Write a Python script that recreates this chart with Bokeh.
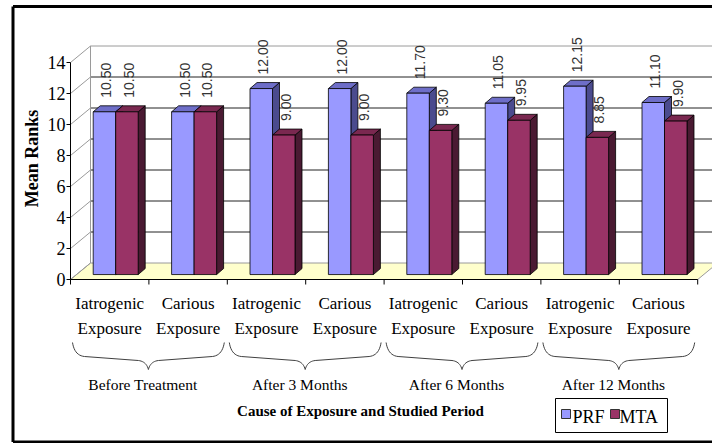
import numpy as np
from bokeh.plotting import figure
from bokeh.models import Range1d, ColumnDataSource
from bokeh.core.properties import value
from bokeh.embed import file_html
from bokeh.resources import INLINE

# ---------------- data ----------------
causes = ["Iatrogenic Exposure", "Carious Exposure",
          "Iatrogenic Exposure", "Carious Exposure",
          "Iatrogenic Exposure", "Carious Exposure",
          "Iatrogenic Exposure", "Carious Exposure"]
periods = ["Before Treatment", "After 3 Months", "After 6 Months", "After 12 Months"]
prf = [10.50, 10.50, 12.00, 12.00, 11.70, 11.05, 12.15, 11.10]
mta = [10.50, 10.50, 9.00, 9.00, 9.30, 9.95, 8.85, 9.90]
prf_labels = ["10.50", "10.50", "12.00", "12.00", "11.70", "11.05", "12.15", "11.10"]
mta_labels = ["10.50", "10.50", "9.00", "9.00", "9.30", "9.95", "8.85", "9.90"]
y_ticks = [0, 2, 4, 6, 8, 10, 12, 14]
y_tick_labels = ["0", "2", "4", "6", "8", "10", "12", "14"]
series_names = ["PRF", "MTA"]

# ---------------- layout (pixels) ----------------
W, H = 712, 443
OX, OY = 70, 279          # position of the front axis origin
PX_X, PX_Y = 78.4, 15.5   # pixels per category / per value unit

def X(px):
    return (px - OX) / PX_X

def Y(py):
    return (OY - py) / PX_Y

def dx(px):
    return px / PX_X

def dy(px):
    return px / PX_Y

SERIF = "Liberation Serif"
SANS = "Liberation Sans"

p = figure(width=W, height=H, output_backend="svg", toolbar_location=None,
           x_range=Range1d(X(0), X(W)), y_range=Range1d(Y(H), Y(0)),
           x_axis_location=None, y_axis_location=None, min_border=0)
p.grid.visible = False
p.outline_line_color = None
p.background_fill_color = "white"
p.border_fill_color = "white"

n = len(prf)
ymax = y_ticks[-1]

# 3D geometry
WDX, WDY = dx(20), dy(16.5)      # wall depth
F = 0.30                         # bar depth position
BASE = F * WDY
SHIFT = F * WDX
BW = dx(22.5)
DDX, DDY = dx(7), dy(6)

# floor
p.patch([0, n, n + WDX, WDX], [0, 0, WDY, WDY], fill_color="#FFFFCC",
        line_color="#9a9a9a", line_width=1)

# back wall grid lines
grid_vals = [v for v in y_ticks if 0 < v < ymax]
p.multi_line([[WDX, n + WDX] for v in grid_vals], [[v + WDY, v + WDY] for v in grid_vals],
             line_color="#222222", line_width=1)
p.multi_line([[WDX, n + WDX], [WDX, WDX]], [[ymax + WDY, ymax + WDY], [WDY, ymax + WDY]],
             line_color="#9a9a9a", line_width=1)
p.multi_line([[0, WDX] for v in y_ticks], [[v, v + WDY] for v in y_ticks],
             line_color="#9a9a9a", line_width=1)

# y axis
p.line([0, 0], [0, ymax], line_color="black", line_width=1)
p.multi_line([[dx(-4), 0] for v in y_ticks], [[v, v] for v in y_ticks],
             line_color="black", line_width=1)
p.text(x=[dx(-5)] * len(y_ticks), y=y_ticks, text=y_tick_labels,
       text_align="right", text_baseline="middle",
       text_font=value(SERIF), text_font_size="18px", text_color="black")

# x axis
p.line([0, n], [0, 0], line_color="black", line_width=1)
p.multi_line([[i, i] for i in range(n + 1)], [[0, dy(-5)] for i in range(n + 1)],
             line_color="black", line_width=1)

# bars
colors = {
    "PRF": ("#9999FF", "#6E6EC8", "#4B4B8E"),
    "MTA": ("#993366", "#7A2850", "#4A1A32"),
}
for s, (name, vals) in enumerate(zip(series_names, [prf, mta])):
    front, top_c, side_c = colors[name]
    left = np.array([i + 0.5 + SHIFT - BW + s * BW for i in range(n)])
    right = left + BW
    bottom = np.full(n, BASE)
    top = np.array(vals) + BASE
    sx = [[r, r, r + DDX, r + DDX] for r in right]
    sy = [[b, t, t + DDY, b + DDY] for b, t in zip(bottom, top)]
    p.patches(sx, sy, fill_color=side_c, line_color="black", line_width=0.8)
    tx = [[l, r, r + DDX, l + DDX] for l, r in zip(left, right)]
    ty = [[t, t, t + DDY, t + DDY] for t in top]
    p.patches(tx, ty, fill_color=top_c, line_color="black", line_width=0.8)
    src = ColumnDataSource(dict(left=left, right=right, bottom=bottom, top=top))
    p.quad(left="left", right="right", bottom="bottom", top="top",
           source=src, fill_color=front, line_color="black", line_width=0.8)

# data labels (rotated)
for s, (vals, labs) in enumerate(zip([prf, mta], [prf_labels, mta_labels])):
    lx = [i + 0.5 + SHIFT - BW / 2 + s * BW + dx(2) for i in range(n)]
    ly = [v + BASE + dy(14) for v in vals]
    p.text(x=lx, y=ly, text=labs, angle=np.pi / 2, text_align="left", text_baseline="middle",
           text_font=value(SANS), text_font_size="14px", text_color="#333333")

# category labels (two lines)
first = [c.split(" ")[0] for c in causes]
second = [" ".join(c.split(" ")[1:]) for c in causes]
cx = [i + 0.5 for i in range(n)]
p.text(x=cx, y=[Y(303)] * n, text=first, text_align="center", text_baseline="alphabetic",
       text_font=value(SERIF), text_font_size="17px", text_color="black")
p.text(x=cx, y=[Y(328)] * n, text=second, text_align="center", text_baseline="alphabetic",
       text_font=value(SERIF), text_font_size="17px", text_color="black")

# braces
def brace(x0, x1):
    xc = (x0 + x1) / 2
    yt, ym, yb = 342, 356, 369
    t = np.linspace(0, 1, 12)
    def qb(p0, p1, p2):
        return ((1 - t) ** 2)[:, None] * np.array(p0) + (2 * (1 - t) * t)[:, None] * np.array(p1) + (t ** 2)[:, None] * np.array(p2)
    seg1 = qb((x0, yt), (x0 + 2, ym - 1), (x0 + 12, ym))
    seg2 = np.array([(x0 + 12, ym), (xc - 10, ym + 4)])
    seg3 = qb((xc - 10, ym + 4), (xc - 2, ym + 5), (xc, yb))
    seg4 = qb((xc, yb), (xc + 2, ym + 5), (xc + 10, ym + 4))
    seg5 = np.array([(xc + 10, ym + 4), (x1 - 12, ym)])
    seg6 = qb((x1 - 12, ym), (x1 - 2, ym - 1), (x1, yt))
    pts = np.vstack([seg1, seg2, seg3, seg4, seg5, seg6])
    return [X(v) for v in pts[:, 0]], [Y(v) for v in pts[:, 1]]

bxs, bys = [], []
for g in range(len(periods)):
    gx0 = OX + 2 * g * PX_X + 2
    gx1 = OX + 2 * (g + 1) * PX_X - 3
    bx, by = brace(gx0, gx1)
    bxs.append(bx)
    bys.append(by)
p.multi_line(bxs, bys, line_color="#404040", line_width=1)

# group labels
p.text(x=[2 * g + 1 - dx(6) for g in range(len(periods))], y=[Y(384)] * len(periods), text=periods,
       text_align="center", text_baseline="alphabetic",
       text_font=value(SERIF), text_font_size="15.5px", text_color="black")

# axis titles
p.text(x=[X(360)], y=[Y(410)], text=["Cause of Exposure and Studied Period"],
       text_align="center", text_baseline="alphabetic", text_font=value(SERIF),
       text_font_size="15px", text_font_style="bold", text_color="black")
p.text(x=[X(31)], y=[Y(158)], text=["Mean Ranks"], angle=np.pi / 2,
       text_align="center", text_baseline="middle", text_font=value(SERIF),
       text_font_size="18px", text_font_style="bold", text_color="black")

# outer frame
p.multi_line([[X(12.5), X(12.5)], [X(12.5), X(W)], [X(12.5), X(W)]],
             [[Y(6), Y(441.5)], [Y(6), Y(6)], [Y(441.5), Y(441.5)]],
             line_color="black", line_width=3)

# legend (drawn as glyphs)
p.quad(left=[X(555)], right=[X(667)], bottom=[Y(432)], top=[Y(398)],
       fill_color="white", line_color="black", line_width=1)
sw_x = [X(561), X(610)]
p.quad(left=sw_x, right=[v + dx(9) for v in sw_x], bottom=[Y(418)] * 2, top=[Y(409)] * 2,
       fill_color=[colors[s][0] for s in series_names], line_color="#333333", line_width=1)
p.text(x=[X(572), X(619)], y=[Y(416)] * 2, text=series_names, text_align="left",
       text_baseline="alphabetic", text_font=value(SERIF), text_font_size="18px",
       text_color="black")

open("out.html", "w").write(file_html(p, INLINE))
